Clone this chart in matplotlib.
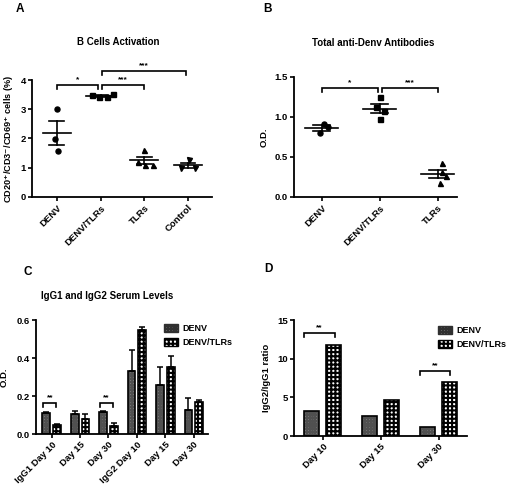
import numpy as np
import matplotlib
matplotlib.use("Agg")
import matplotlib.pyplot as plt
from matplotlib.patches import Patch

plt.rcParams['font.family'] = ['Liberation Sans', 'DejaVu Sans']
plt.rcParams['font.weight'] = 'bold'
plt.rcParams['axes.labelweight'] = 'bold'
plt.rcParams['mathtext.default'] = 'bf'
plt.rcParams['hatch.linewidth'] = 1.5

## panel A data
a_groups = ['DENV', 'DENV/TLRs', 'TLRs', 'Control']
a_values = [[3.0, 1.98, 1.58],
            [3.50, 3.41, 3.41, 3.53],
            [1.20, 1.60, 1.10, 1.10],
            [0.99, 1.25, 1.00]]
a_jitter = [[0, -0.05, 0.02], [-0.19, -0.04, 0.14, 0.29],
            [-0.15, 0.0, 0.02, 0.19], [-0.15, 0.02, 0.15]]
a_markers = ['o', 's', '^', 'v']

## panel B data
b_groups = ['DENV', 'DENV/TLRs', 'TLRs']
b_values = [[0.80, 0.91, 0.88],
            [1.25, 1.12, 1.07, 0.97],
            [0.42, 0.31, 0.26, 0.18]]
b_jitter = [[-0.03, 0.03, 0.1], [0.01, -0.07, 0.08, 0.01], [0.08, 0.08, 0.14, 0.03]]
b_markers = ['o', 's', '^']

## panel C data
c_labels = ['IgG1 Day 10', 'Day 15', 'Day 30', 'IgG2 Day 10', 'Day 15', 'Day 30']
c_denv = [0.108, 0.105, 0.114, 0.329, 0.259, 0.128]
c_denv_err = [0.007, 0.017, 0.006, 0.112, 0.093, 0.059]
c_tlrs = [0.050, 0.079, 0.044, 0.546, 0.353, 0.168]
c_tlrs_err = [0.005, 0.028, 0.012, 0.019, 0.060, 0.012]

## panel D data
d_labels = ['Day 10', 'Day 15', 'Day 30']
d_denv = [3.23, 2.54, 1.16]
d_tlrs = [11.8, 4.66, 6.94]

W, H = 510, 486
fig = plt.figure(figsize=(W / 100, H / 100), dpi=100)


def px_axes(l, t, r, b):
    return fig.add_axes([l / W, 1 - b / H, (r - l) / W, (b - t) / H])


def style(ax):
    for s in ['top', 'right']:
        ax.spines[s].set_visible(False)
    for s in ['left', 'bottom']:
        ax.spines[s].set_linewidth(1.3)
    ax.tick_params(width=1.2, length=3, labelsize=6.8, pad=1.5)
    for lab in ax.get_yticklabels():
        lab.set_fontweight('bold')


def bracket(ax, x0, x1, y, dy, text, fs=6):
    ax.plot([x0, x0, x1, x1], [y - dy, y, y, y - dy], color='black', lw=1.2,
            clip_on=False, solid_joinstyle='miter')
    ax.text((x0 + x1) / 2, y + dy * 0.4, text, ha='center', va='bottom',
            fontsize=fs, fontweight='bold')


def dot_panel(ax, values, jitter, markers, mw, sw):
    for i, vals in enumerate(values):
        vals = np.array(vals)
        m = vals.mean()
        sem = vals.std(ddof=1) / np.sqrt(len(vals))
        ax.plot(i + np.array(jitter[i]), vals, linestyle='none', marker=markers[i],
                color='black', ms=3.6, zorder=3)
        ax.plot([i - mw / 2, i + mw / 2], [m, m], color='black', lw=1.2)
        ax.plot([i - sw / 2, i + sw / 2], [m + sem, m + sem], color='black', lw=1.2)
        ax.plot([i - sw / 2, i + sw / 2], [m - sem, m - sem], color='black', lw=1.2)
        ax.plot([i, i], [m - sem, m + sem], color='black', lw=1.2)


def hatched_bars(ax, x, h, w, face, hatch, hcol):
    ax.bar(x, h, w, color=face, hatch=hatch, edgecolor=hcol, linewidth=0, zorder=2)
    ax.bar(x, h, w, fill=False, edgecolor='black', linewidth=1.2, zorder=3)


denv_face, denv_hatch, denv_hcol = '#b4b4b4', '++++++', '#505050'
tlrs_face, tlrs_hatch, tlrs_hcol = 'white', '++++', 'black'

# ---- A
axA = px_axes(32, 80, 212, 197)
dot_panel(axA, a_values, a_jitter, a_markers, 0.65, 0.34)
axA.set_xlim(-0.57, 3.55)
axA.set_ylim(0, 4)
axA.set_yticks([0, 1, 2, 3, 4])
axA.set_xticks(range(len(a_groups)))
axA.set_xticklabels(a_groups, rotation=45, ha='right', rotation_mode='anchor', fontweight='bold')
axA.set_ylabel(r'CD20$^{+}$/CD3$^{-}$/CD69$^{+}$ cells (%)', fontsize=6.6, labelpad=3)
style(axA)
bracket(axA, 0, 0.93, 3.84, 0.14, '*')
bracket(axA, 1.03, 2.0, 3.84, 0.14, '***')
bracket(axA, 1.03, 2.95, 4.32, 0.14, '***')

# ---- B
axB = px_axes(294, 77, 457, 197)
dot_panel(axB, b_values, b_jitter, b_markers, 0.57, 0.29)
axB.set_xlim(-0.48, 2.33)
axB.set_ylim(0, 1.5)
axB.set_yticks([0, 0.5, 1.0, 1.5])
axB.set_yticklabels(['0.0', '0.5', '1.0', '1.5'])
axB.set_xticks(range(len(b_groups)))
axB.set_xticklabels(b_groups, rotation=45, ha='right', rotation_mode='anchor', fontweight='bold')
axB.set_ylabel('O.D.', fontsize=6.8, labelpad=4)
style(axB)
bracket(axB, 0, 0.97, 1.36, 0.05, '*')
bracket(axB, 1.03, 2.0, 1.36, 0.05, '***')

# ---- C
axC = px_axes(36, 320, 208, 434)
xc = np.arange(len(c_labels))
bw = 0.27
hatched_bars(axC, xc - 0.19, c_denv, bw, denv_face, denv_hatch, denv_hcol)
hatched_bars(axC, xc + 0.19, c_tlrs, bw, tlrs_face, tlrs_hatch, tlrs_hcol)
axC.errorbar(xc - 0.19, c_denv, yerr=[np.zeros(len(c_denv)), c_denv_err], fmt='none',
             ecolor='black', elinewidth=1.1, capsize=2, capthick=1.1, zorder=4)
axC.errorbar(xc + 0.19, c_tlrs, yerr=[np.zeros(len(c_tlrs)), c_tlrs_err], fmt='none',
             ecolor='black', elinewidth=1.1, capsize=2, capthick=1.1, zorder=4)
axC.set_xlim(-0.55, 5.5)
axC.set_ylim(0, 0.6)
axC.set_yticks([0, 0.2, 0.4, 0.6])
axC.set_yticklabels(['0.0', '0.2', '0.4', '0.6'])
axC.set_xticks(xc)
axC.set_xticklabels(c_labels, rotation=45, ha='right', rotation_mode='anchor', fontweight='bold')
axC.set_ylabel('O.D.', fontsize=6.8, labelpad=6)
style(axC)
bracket(axC, -0.3, 0.17, 0.163, 0.02, '**')
bracket(axC, 1.7, 2.17, 0.163, 0.02, '**')

# ---- D
axD = px_axes(294, 320, 467, 436)
xd = np.arange(len(d_labels))
hatched_bars(axD, xd - 0.19, d_denv, 0.26, denv_face, denv_hatch, denv_hcol)
hatched_bars(axD, xd + 0.19, d_tlrs, 0.26, tlrs_face, tlrs_hatch, tlrs_hcol)
axD.set_xlim(-0.5, 2.49)
axD.set_ylim(0, 15)
axD.set_yticks([0, 5, 10, 15])
axD.set_xticks(xd)
axD.set_xticklabels(d_labels, rotation=45, ha='right', rotation_mode='anchor', fontweight='bold')
axD.set_ylabel('IgG2/IgG1 ratio', fontsize=6.8, labelpad=4)
style(axD)
bracket(axD, -0.32, 0.2, 13.36, 0.5, '**')
bracket(axD, 1.67, 2.2, 8.45, 0.5, '**')

# legends
handles = [Patch(facecolor=denv_face, hatch=denv_hatch, edgecolor='#303030', linewidth=1.0),
           Patch(facecolor=tlrs_face, hatch=tlrs_hatch, edgecolor='black', linewidth=1.0)]
for ax, (lx, ly) in [(axC, (159, 319)), (axD, (433, 321))]:
    ax.legend(handles, ['DENV', 'DENV/TLRs'], loc='upper left',
              bbox_to_anchor=(lx / W, 1 - ly / H), bbox_transform=fig.transFigure,
              frameon=False, fontsize=6.5, handlelength=1.6, handleheight=1.0,
              handletextpad=0.5, labelspacing=0.55, borderpad=0)

# titles and panel letters
fig.text(118 / W, 1 - 42 / H, 'B Cells Activation', ha='center', va='center', fontsize=7, fontweight='bold')
fig.text(373 / W, 1 - 43 / H, 'Total anti-Denv Antibodies', ha='center', va='center', fontsize=7, fontweight='bold')
fig.text(107 / W, 1 - 296 / H, 'IgG1 and IgG2 Serum Levels', ha='center', va='center', fontsize=7, fontweight='bold')
for letter, (x, y) in {'A': (20, 9), 'B': (268, 9), 'C': (28, 272), 'D': (268, 269)}.items():
    fig.text(x / W, 1 - y / H, letter, ha='center', va='center', fontsize=8.5, fontweight='bold')

fig.savefig('out.png', dpi=100)
